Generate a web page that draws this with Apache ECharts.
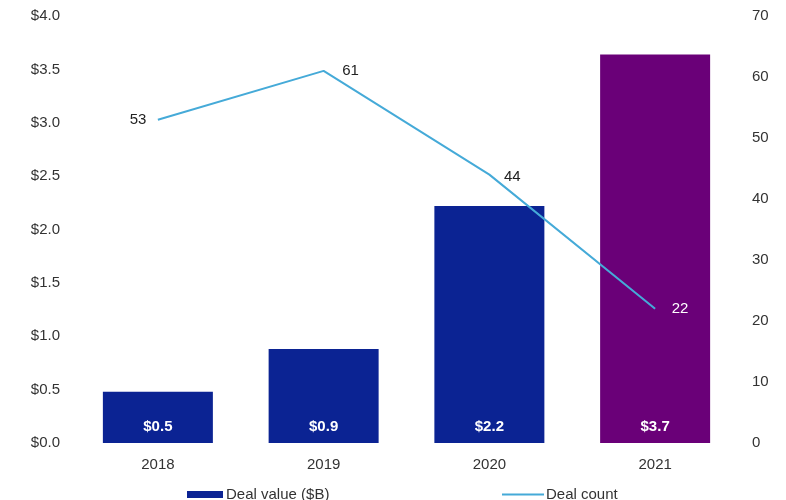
<!DOCTYPE html>
<html><head><meta charset="utf-8">
<script src="https://cdn.jsdelivr.net/npm/echarts@6/dist/echarts.min.js"></script>
<style>html,body{margin:0;padding:0;background:#fff}#c{width:786px;height:500px}</style>
</head><body><div id="c"></div>
<script>
const categories = ['2018', '2019', '2020', '2021'];
const dealValue = [0.48, 0.88, 2.22, 3.64];
const dealValueLabels = ['$0.5', '$0.9', '$2.2', '$3.7'];
const dealCount = [53, 61, 44, 22];
const leftTicks = { min: 0, max: 4, interval: 0.5 };
const rightTicks = { min: 0, max: 70, interval: 10 };

const navy = '#0b2393';
const purple = '#6a0078';
const lineColor = '#45aad8';
const font = 'Liberation Sans, Arial, sans-serif';
const fs = 15;

const chart = echarts.init(document.getElementById('c'));
chart.setOption({
  animation: false,
  textStyle: { fontFamily: font },
  grid: { left: 75, right: 48, top: 16, bottom: 57, containLabel: false },
  legend: [
    { data: [{ name: 'Deal value ($B)', icon: 'rect', itemStyle: { color: navy } }], left: 182, top: 482, itemWidth: 36, itemHeight: 7, itemGap: 4,
      textStyle: { fontFamily: font, fontSize: fs, color: '#333', padding: [0, 0, 0, -2] } },
    { data: [{ name: 'Deal count', icon: 'rect', itemStyle: { color: lineColor } }], left: 497, top: 482, itemWidth: 42, itemHeight: 2,
      textStyle: { fontFamily: font, fontSize: fs, color: '#333', padding: [0, 0, 0, -3] } }
  ],
  xAxis: {
    type: 'category', data: categories,
    axisLine: { show: false }, axisTick: { show: false },
    axisLabel: { color: '#333', fontSize: fs, margin: 14, fontFamily: font }
  },
  yAxis: [
    { type: 'value', min: leftTicks.min, max: leftTicks.max, interval: leftTicks.interval,
      splitLine: { show: false }, axisLine: { show: false }, axisTick: { show: false },
      axisLabel: { color: '#333', fontSize: fs, margin: 15, fontFamily: font, formatter: v => '$' + v.toFixed(1) } },
    { type: 'value', min: rightTicks.min, max: rightTicks.max, interval: rightTicks.interval,
      splitLine: { show: false }, axisLine: { show: false }, axisTick: { show: false },
      axisLabel: { color: '#333', fontSize: fs, margin: 14, fontFamily: font } }
  ],
  series: [
    { name: 'Deal value ($B)', type: 'bar', yAxisIndex: 0, barWidth: 110,
      itemStyle: { color: navy },
      data: dealValue.map((v, i) => ({ value: v, itemStyle: { color: i === 3 ? purple : navy } })),
      label: { show: true, position: 'insideBottom', distance: 9, color: '#fff', fontWeight: 'bold', fontSize: fs,
        fontFamily: font, formatter: p => dealValueLabels[p.dataIndex] } },
    { name: 'Deal count', type: 'line', yAxisIndex: 1, symbol: 'circle', symbolSize: 1, showSymbol: true,
      lineStyle: { color: lineColor, width: 2 }, itemStyle: { color: 'rgba(0,0,0,0)' },
      data: dealCount.map((v, i) => ({ value: v, label: {
        position: i === 0 ? 'left' : 'right',
        distance: i === 0 ? 11 : (i === 2 ? 14 : (i === 1 ? 18 : 16)),
        offset: i === 2 ? [0, 2] : [0, 0],
        color: i === 3 ? '#fff' : '#222'
      } })),
      label: { show: true, fontSize: fs, fontFamily: font } }
  ]
});
</script></body></html>
